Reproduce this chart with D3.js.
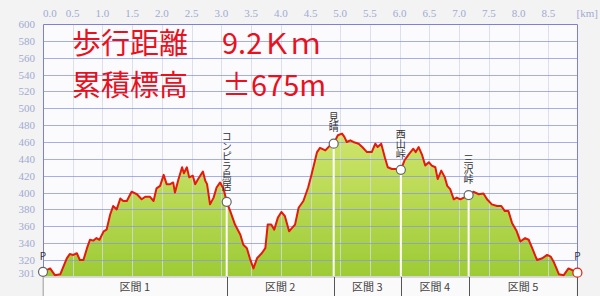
<!DOCTYPE html>
<html>
<head>
<meta charset="utf-8">
<script src="https://cdn.jsdelivr.net/npm/d3@7"></script>
<style>
  body { margin: 0; background: #f3f3f3; }
  svg { display: block; }
</style>
</head>
<body>
<div id="chart"></div>
<script>
// distance [km] and elevation [m]
const distKm = [0, 0.12, 0.20, 0.29, 0.40, 0.45, 0.51, 0.57, 0.62, 0.68, 0.74, 0.79, 0.85, 0.90, 0.95,
  1.02, 1.07, 1.13, 1.18, 1.24, 1.30, 1.35, 1.41, 1.49, 1.58, 1.66, 1.72, 1.80, 1.86, 1.91, 1.97,
  2.03, 2.08, 2.14, 2.19, 2.22, 2.28, 2.34, 2.37, 2.42, 2.46, 2.52, 2.56, 2.61, 2.69, 2.73, 2.76,
  2.81, 2.87, 2.92, 2.98, 3.04, 3.09, 3.15, 3.23, 3.32, 3.37, 3.43, 3.48, 3.54, 3.60, 3.68, 3.74,
  3.78, 3.84, 3.89, 3.95, 4.01, 4.07, 4.14, 4.19, 4.24, 4.30, 4.38, 4.46, 4.52, 4.61, 4.66, 4.75,
  4.83, 4.89, 4.96, 5.03, 5.07, 5.11, 5.17, 5.22, 5.31, 5.37, 5.45, 5.53, 5.59, 5.63, 5.69, 5.75,
  5.80, 5.87, 5.95, 6.02, 6.08, 6.15, 6.23, 6.27, 6.32, 6.38, 6.43, 6.49, 6.54, 6.60, 6.64, 6.70,
  6.76, 6.80, 6.85, 6.91, 6.96, 7.02, 7.08, 7.16, 7.24, 7.33, 7.41, 7.47, 7.55, 7.64, 7.71, 7.77,
  7.83, 7.89, 7.97, 8.03, 8.11, 8.17, 8.23, 8.31, 8.40, 8.48, 8.54, 8.59, 8.68, 8.76, 8.84, 8.93, 8.99];
const elevM = [306, 310, 302, 303, 322, 327, 326, 328, 320, 320, 334, 344, 343, 346, 344,
  354, 356, 374, 384, 380, 393, 390, 390, 401, 398, 392, 395, 395, 390, 405, 408,
  421, 410, 410, 412, 400, 416, 430, 423, 430, 418, 420, 410, 416, 425, 414, 410,
  386, 394, 406, 412, 404, 389, 378, 362, 350, 338, 334, 322, 310, 322, 328, 334,
  362, 362, 356, 370, 377, 372, 354, 358, 362, 382, 390, 406, 422, 448, 453, 450,
  456, 458, 468, 470, 466, 460, 462, 460, 458, 454, 448, 448, 458, 454, 458, 442,
  430, 428, 428, 427, 438, 445, 452, 448, 454, 444, 432, 436, 432, 430, 416, 426,
  418, 408, 404, 392, 394, 392, 394, 397, 401, 398, 399, 392, 386, 384, 384, 378,
  378, 364, 354, 342, 346, 344, 334, 320, 322, 326, 324, 318, 303, 302, 310, 307, 306];

// waypoints
const wpNames = ["P", "コンピラ鳥居", "見晴", "西山峠", "三沢峠", "P"];
const wpKm = [0, 3.09, 4.89, 6.02, 7.16, 8.99];
const wpElev = [306, 389, 458, 427, 397, 305];

// sections between waypoints
const sectionNames = ["区間 1", "区間 2", "区間 3", "区間 4", "区間 5"];

// axis ticks
const xTicks = [0, 0.5, 1, 1.5, 2, 2.5, 3, 3.5, 4, 4.5, 5, 5.5, 6, 6.5, 7, 7.5, 8, 8.5];
const yTicks = [320, 340, 360, 380, 400, 420, 440, 460, 480, 500, 520, 540, 560, 580, 600];
const yBottomLabel = "301";

const summary = [["歩行距離", "9.2Ｋｍ"], ["累積標高", "±675m"]];

const width = 600, height = 296;
const plot = {left: 43, right: 578, top: 24, bottom: 276};

const svg = d3.select("#chart").append("svg")
  .attr("width", width)
  .attr("height", height);

svg.append("rect").attr("width", width).attr("height", height).attr("fill", "#f3f3f3");

const x = d3.scaleLinear().domain([0, 9.0]).range([plot.left, plot.right]);
const y = d3.scaleLinear().domain([301, 600]).range([plot.bottom, plot.top]);

// plot background
svg.append("rect")
  .attr("x", plot.left).attr("y", plot.top)
  .attr("width", plot.right - plot.left).attr("height", plot.bottom - plot.top)
  .attr("fill", "#fbfbfd");

// fill gradient
const grad = svg.append("defs").append("linearGradient")
  .attr("id", "fillGrad")
  .attr("gradientUnits", "userSpaceOnUse")
  .attr("x1", 0).attr("x2", 0)
  .attr("y1", y(470)).attr("y2", y(301));
grad.append("stop").attr("offset", 0).attr("stop-color", "#cfe56c");
grad.append("stop").attr("offset", 1).attr("stop-color", "#9dcb35");

const pts = distKm.map((d, i) => [d, elevM[i]]);

svg.append("path")
  .datum(pts)
  .attr("fill", "url(#fillGrad)")
  .attr("d", d3.area().x(d => x(d[0])).y0(y(301)).y1(d => y(d[1])));

// vertical grid
svg.append("g")
  .selectAll("line")
  .data(xTicks.filter(d => d > 0))
  .join("line")
  .attr("x1", d => Math.round(x(d)) + 0.5).attr("x2", d => Math.round(x(d)) + 0.5)
  .attr("y1", plot.top).attr("y2", plot.bottom)
  .attr("stroke", "#d4dae8")
  .attr("stroke-opacity", 0.8);

// horizontal grid
svg.append("g")
  .selectAll("line")
  .data(yTicks.filter(d => d < 600))
  .join("line")
  .attr("x1", plot.left).attr("x2", plot.right)
  .attr("y1", d => Math.round(y(d)) + 0.5).attr("y2", d => Math.round(y(d)) + 0.5)
  .attr("stroke", "#8796e2")
  .attr("stroke-opacity", 0.75);

// waypoint drop lines
svg.append("g")
  .selectAll("line")
  .data(wpKm.slice(1, -1).map((d, i) => [d, wpElev[i + 1]]))
  .join("line")
  .attr("x1", d => x(d[0])).attr("x2", d => x(d[0]))
  .attr("y1", d => y(d[1])).attr("y2", plot.bottom)
  .attr("stroke", "#ffffff")
  .attr("stroke-width", 2);

// profile line
svg.append("path")
  .datum(pts)
  .attr("fill", "none")
  .attr("stroke", "#e8180c")
  .attr("stroke-width", 2)
  .attr("stroke-linejoin", "round")
  .attr("d", d3.line().x(d => x(d[0])).y(d => y(d[1])));

// plot frame (left, top, right)
svg.append("path")
  .attr("d", `M${plot.left + 0.5},${plot.bottom}V${plot.top + 0.5}H${plot.right - 0.5}V${plot.bottom}`)
  .attr("fill", "none")
  .attr("stroke", "#7d7fd8");

// axis labels
const tickFont = "'Liberation Serif', serif";
svg.append("g")
  .selectAll("text")
  .data(xTicks)
  .join("text")
  .attr("x", d => d === 0 ? plot.left : x(d))
  .attr("y", 17)
  .attr("text-anchor", d => d === 0 ? "start" : "middle")
  .attr("font-family", tickFont)
  .attr("font-size", 11)
  .attr("fill", "#a2aad2")
  .text(d => d.toFixed(1));

svg.append("text")
  .attr("x", 598).attr("y", 17)
  .attr("text-anchor", "end")
  .attr("font-family", tickFont)
  .attr("font-size", 11)
  .attr("fill", "#a2aad2")
  .text("[km]");

svg.append("g")
  .selectAll("text")
  .data(yTicks)
  .join("text")
  .attr("x", 35)
  .attr("y", d => y(d) + 4)
  .attr("text-anchor", "end")
  .attr("font-family", tickFont)
  .attr("font-size", 11)
  .attr("fill", "#a2aad2")
  .text(d => d);

svg.append("text")
  .attr("x", 35).attr("y", y(301) + 1)
  .attr("text-anchor", "end")
  .attr("font-family", tickFont)
  .attr("font-size", 11)
  .attr("fill", "#a2aad2")
  .text(yBottomLabel);

// section bar
svg.append("rect")
  .attr("x", plot.left).attr("y", plot.bottom + 1)
  .attr("width", x(wpKm[wpKm.length - 1]) - plot.left).attr("height", height - plot.bottom)
  .attr("fill", "#fafafa")
  .attr("stroke", "#b8b8b8");

svg.append("g")
  .selectAll("line")
  .data(wpKm)
  .join("line")
  .attr("x1", d => Math.round(x(d)) + 0.5).attr("x2", d => Math.round(x(d)) + 0.5)
  .attr("y1", plot.bottom + 1).attr("y2", height)
  .attr("stroke", (d, i) => i === 0 ? "#b8b8b8" : "#555");

svg.append("g")
  .selectAll("text")
  .data(sectionNames)
  .join("text")
  .attr("x", (d, i) => (x(wpKm[i]) + x(wpKm[i + 1])) / 2)
  .attr("y", 291)
  .attr("text-anchor", "middle")
  .attr("font-family", "'Noto Sans CJK JP', sans-serif")
  .attr("font-size", 11)
  .attr("fill", "#444")
  .text(d => d);

// waypoint markers
svg.append("g")
  .selectAll("circle")
  .data(wpKm.map((d, i) => [d, wpElev[i]]))
  .join("circle")
  .attr("cx", d => x(d[0]))
  .attr("cy", d => y(d[1]))
  .attr("r", 4.5)
  .attr("fill", "#fff")
  .attr("stroke", (d, i) => i === wpKm.length - 1 ? "#e8180c" : "#666")
  .attr("stroke-width", 1.2);

// waypoint names, written vertically
svg.append("g")
  .selectAll("text")
  .data(wpNames)
  .join("text")
  .attr("x", (d, i) => x(wpKm[i]))
  .attr("y", (d, i) => y(wpElev[i]) - 11)
  .attr("text-anchor", "end")
  .style("writing-mode", "vertical-rl")
  .style("text-orientation", "upright")
  .attr("font-family", "'Noto Sans CJK JP', sans-serif")
  .attr("font-size", 10)
  .attr("fill", "#333")
  .text(d => d);

// summary text
summary.forEach((row, i) => {
  svg.append("text")
    .attr("x", 72).attr("y", 54 + i * 42)
    .attr("font-family", "'Noto Sans CJK JP', sans-serif")
    .attr("font-size", 29)
    .attr("fill", "#e8111d")
    .text(row[0]);
  svg.append("text")
    .attr("x", 222).attr("y", 54 + i * 42)
    .attr("font-family", "'Noto Sans CJK JP', sans-serif")
    .attr("font-size", 29)
    .attr("fill", "#e8111d")
    .text(row[1]);
});
</script>
</body>
</html>
